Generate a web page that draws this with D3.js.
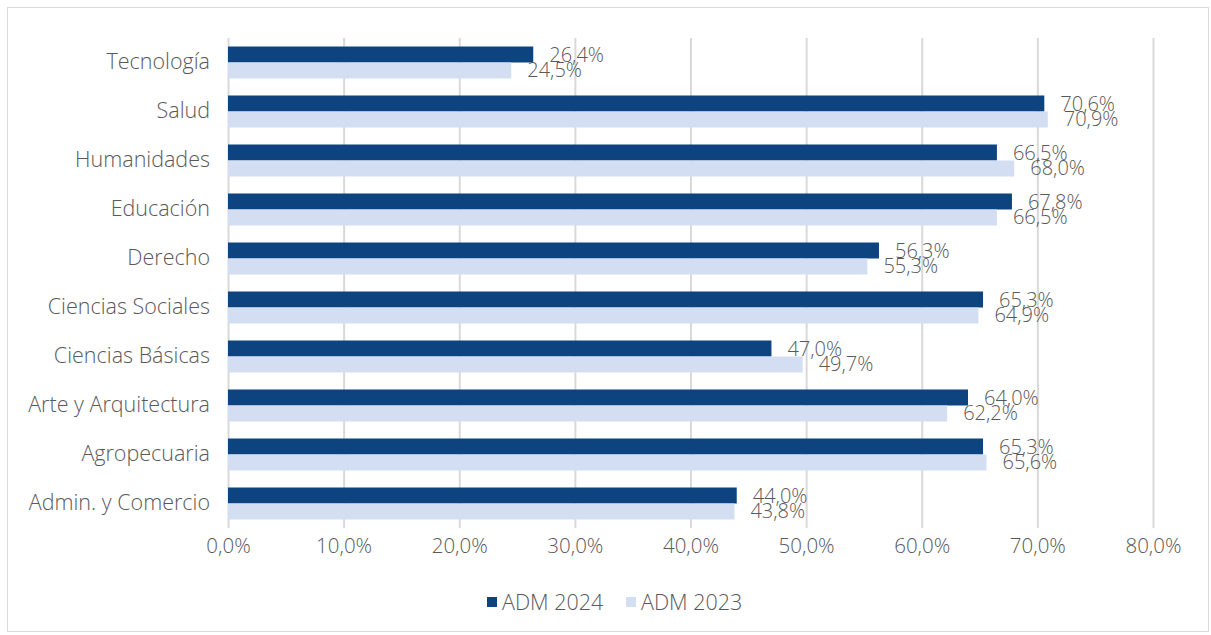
<!DOCTYPE html>
<html><head><meta charset="utf-8">
<script src="https://cdn.jsdelivr.net/npm/d3@7"></script>
<style>
body{margin:0;background:#fff;}
svg text{font-family:"Open Sans","Noto Sans",sans-serif;font-weight:300;fill:#595959;}
</style></head>
<body><svg id="c" width="1211" height="635"></svg>
<script>
const categories = ["Tecnología","Salud","Humanidades","Educación","Derecho","Ciencias Sociales","Ciencias Básicas","Arte y Arquitectura","Agropecuaria","Admin. y Comercio"];
const adm2024 = [26.4,70.6,66.5,67.8,56.3,65.3,47.0,64.0,65.3,44.0];
const adm2023 = [24.5,70.9,68.0,66.5,55.3,64.9,49.7,62.2,65.6,43.8];
const seriesNames = ["ADM 2024","ADM 2023"];
const xTicks = [0,10,20,30,40,50,60,70,80];
const colors = ["#0D4480","#D4DEF2"];

const svg = d3.select("#c");
svg.append("rect").attr("x",7.5).attr("y",7.5).attr("width",1201).attr("height",624)
  .attr("fill","#fff").attr("stroke","#d9d9d9").attr("stroke-width",1);

const x = d3.scaleLinear().domain([0,80]).range([228,1153]);
const y = d3.scaleBand().domain(categories).range([38,528]).paddingInner(0.347).paddingOuter(0.1735);
const ySub = d3.scaleBand().domain(seriesNames).range([0,y.bandwidth()]);
const fmt = v => d3.format(".1f")(v).replace(".",",")+"%";

// gridlines
svg.append("g").selectAll("line").data(xTicks).join("line")
  .attr("x1",d=>x(d)+0.5).attr("x2",d=>x(d)+0.5).attr("y1",38).attr("y2",528)
  .attr("stroke","#d9d9d9").attr("stroke-width",2);

// x axis labels
const xa = svg.append("g").attr("transform","translate(0,528)")
  .call(d3.axisBottom(x).tickValues(xTicks).tickSize(0).tickPadding(10).tickFormat(d=>fmt(d)));
xa.select(".domain").remove();
xa.selectAll("text").attr("font-size",20.5);

// y axis labels
const ya = svg.append("g").attr("transform","translate(228,0)")
  .call(d3.axisLeft(y).tickSize(0).tickPadding(18));
ya.select(".domain").remove();
ya.selectAll("text").attr("font-size",21.5);
svg.selectAll(".tick text").attr("font-family",null).attr("fill",null);

const data = categories.map((c,i)=>({c, vals:[{s:seriesNames[0],v:adm2024[i]},{s:seriesNames[1],v:adm2023[i]}]}));
const grp = svg.append("g").selectAll("g").data(data).join("g")
  .attr("transform",d=>`translate(0,${y(d.c)})`);
grp.selectAll("rect").data(d=>d.vals).join("rect")
  .attr("x",x(0)).attr("y",d=>ySub(d.s)).attr("height",ySub.bandwidth())
  .attr("width",d=>x(d.v)-x(0)).attr("fill",(d,i)=>colors[i]);
grp.selectAll("text").data(d=>d.vals).join("text")
  .attr("x",d=>x(d.v)+16).attr("y",d=>ySub(d.s)+ySub.bandwidth()/2)
  .attr("dy","0.35em").attr("font-size",20).text(d=>fmt(d.v));

// legend
const leg = svg.append("g").attr("transform","translate(487,602)");
seriesNames.forEach((s,i)=>{
  const g = leg.append("g").attr("transform",`translate(${i*139},0)`);
  g.append("rect").attr("x",0).attr("y",-5).attr("width",10).attr("height",10).attr("fill",colors[i]);
  g.append("text").attr("x",15).attr("y",0).attr("dy","0.35em").attr("font-size",21.5).text(s);
});
</script></body></html>
